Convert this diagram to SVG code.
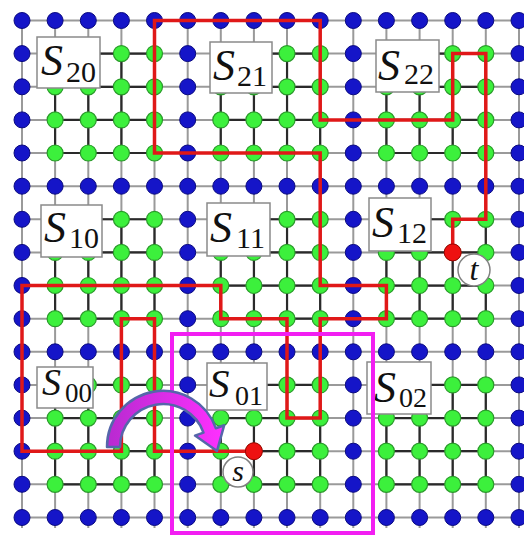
<svg xmlns="http://www.w3.org/2000/svg" width="524" height="535" viewBox="0 0 524 535">
<style>
.gl{stroke:#9a9a9a;stroke-width:2;fill:none}
.gd{stroke:#2a2a2a;stroke-width:2.2;fill:none}
.b{fill:#1515c8;stroke:#0a0a80;stroke-width:1}
.g{fill:#3cf03c;stroke:#2a9a2a;stroke-width:1.2}
.red{stroke:#e01818;stroke-width:3.5;fill:none}
.lab{fill:#fff;stroke:#8a8a8a;stroke-width:1.5}
.pt{fill:#ee1111;stroke:#a00000;stroke-width:1}
.cl{fill:#fff;stroke:#808080;stroke-width:1.5}
</style>
<defs>
<g id="rowB">
<circle class="b" cx="22" cy="0" r="8"/><circle class="b" cx="55.1" cy="0" r="8"/><circle class="b" cx="88.3" cy="0" r="8"/><circle class="b" cx="121.4" cy="0" r="8"/><circle class="b" cx="154.5" cy="0" r="8"/><circle class="b" cx="187.7" cy="0" r="8"/><circle class="b" cx="220.8" cy="0" r="8"/><circle class="b" cx="253.9" cy="0" r="8"/><circle class="b" cx="287" cy="0" r="8"/><circle class="b" cx="320.2" cy="0" r="8"/><circle class="b" cx="353.3" cy="0" r="8"/><circle class="b" cx="386.4" cy="0" r="8"/><circle class="b" cx="419.6" cy="0" r="8"/><circle class="b" cx="452.7" cy="0" r="8"/><circle class="b" cx="485.8" cy="0" r="8"/><circle class="b" cx="519" cy="0" r="8"/>
</g>
<g id="rowG">
<circle class="b" cx="22" cy="0" r="8"/><circle class="g" cx="55.1" cy="0" r="8"/><circle class="g" cx="88.3" cy="0" r="8"/><circle class="g" cx="121.4" cy="0" r="8"/><circle class="g" cx="154.5" cy="0" r="8"/><circle class="b" cx="187.7" cy="0" r="8"/><circle class="g" cx="220.8" cy="0" r="8"/><circle class="g" cx="253.9" cy="0" r="8"/><circle class="g" cx="287" cy="0" r="8"/><circle class="g" cx="320.2" cy="0" r="8"/><circle class="b" cx="353.3" cy="0" r="8"/><circle class="g" cx="386.4" cy="0" r="8"/><circle class="g" cx="419.6" cy="0" r="8"/><circle class="g" cx="452.7" cy="0" r="8"/><circle class="g" cx="485.8" cy="0" r="8"/><circle class="b" cx="519" cy="0" r="8"/>
</g>
<path id="blk" class="gd" d="M55.1 53.6H154.5M55.1 86.8H154.5M55.1 119.9H154.5M55.1 153H154.5M55.1 53.6V153M88.3 53.6V153M121.4 53.6V153M154.5 53.6V153"/>
<linearGradient id="arrGrad" x1="0" y1="0" x2="1" y2="0">
<stop offset="0" stop-color="#b82ad0"/>
<stop offset="1" stop-color="#ff30ff"/>
</linearGradient>
</defs>

<g id="grid-lines">
<path class="gl" d="M22 20.5H524M22 53.6H524M22 86.8H524M22 119.9H524M22 153H524M22 186.2H524M22 219.3H524M22 252.4H524M22 285.5H524M22 318.7H524M22 351.8H524M22 384.9H524M22 418.1H524M22 451.2H524M22 484.3H524M22 517.5H524"/>
<path class="gl" d="M22 20.5V528M55.1 20.5V528M88.3 20.5V528M121.4 20.5V528M154.5 20.5V528M187.7 20.5V528M220.8 20.5V528M253.9 20.5V528M287 20.5V528M320.2 20.5V528M353.3 20.5V528M386.4 20.5V528M419.6 20.5V528M452.7 20.5V528M485.8 20.5V528M519 20.5V528"/>
<use href="#blk" x="0" y="0"/><use href="#blk" x="165.65" y="0"/><use href="#blk" x="331.3" y="0"/>
<use href="#blk" x="0" y="165.65"/><use href="#blk" x="165.65" y="165.65"/><use href="#blk" x="331.3" y="165.65"/>
<use href="#blk" x="0" y="331.3"/><use href="#blk" x="165.65" y="331.3"/><use href="#blk" x="331.3" y="331.3"/>
</g>

<g id="dots">
<use href="#rowB" y="20.5"/>
<use href="#rowG" y="53.6"/>
<use href="#rowG" y="86.8"/>
<use href="#rowG" y="119.9"/>
<use href="#rowG" y="153"/>
<use href="#rowB" y="186.2"/>
<use href="#rowG" y="219.3"/>
<use href="#rowG" y="252.4"/>
<use href="#rowG" y="285.5"/>
<use href="#rowG" y="318.7"/>
<use href="#rowB" y="351.8"/>
<use href="#rowG" y="384.9"/>
<use href="#rowG" y="418.1"/>
<use href="#rowG" y="451.2"/>
<use href="#rowG" y="484.3"/>
<use href="#rowB" y="517.5"/>
</g>

<g id="connectors">
<path id="route" class="red" d="M253.9 451.2H154.5V318.7H121.4V451.2H22V285.5H220.8V318.7H287V418.1H320.2V318.7H386.4V285.5H320.2V153H154.5V20.5H320.2V119.9H452.7V53.6H485.8V219.3H452.7V252.4"/>
</g>

<g id="node-s"><circle class="pt" cx="253.9" cy="451.2" r="8.5"/></g>
<g id="node-t"><circle class="pt" cx="452.7" cy="252.4" r="8.5"/></g>

<g font-family="Liberation Serif, serif" fill="#111">
<g id="S20"><rect class="lab" x="37" y="37" width="63" height="51"/><text font-style="italic" x="41" y="75" font-size="44">S</text><text x="66" y="82" font-size="30">20</text></g>
<g id="S21"><rect class="lab" x="210" y="42" width="62" height="51"/><text font-style="italic" x="213" y="80" font-size="44">S</text><text x="237" y="86" font-size="30">21</text></g>
<g id="S22"><rect class="lab" x="376" y="40" width="63" height="52"/><text font-style="italic" x="378" y="80" font-size="44">S</text><text x="404" y="84" font-size="30">22</text></g>
<g id="S10"><rect class="lab" x="41" y="205" width="61" height="52"/><text font-style="italic" x="44" y="242" font-size="44">S</text><text x="69" y="248" font-size="30">10</text></g>
<g id="S11"><rect class="lab" x="207" y="203" width="63" height="53"/><text font-style="italic" x="210" y="242" font-size="44">S</text><text x="236" y="248" font-size="30">11</text></g>
<g id="S12"><rect class="lab" x="369" y="198" width="62" height="53"/><text font-style="italic" x="372" y="237" font-size="44">S</text><text x="397" y="243" font-size="30">12</text></g>
<g id="S00"><rect class="lab" x="37" y="367" width="56" height="41"/><text font-style="italic" x="42" y="395" font-size="38">S</text><text x="65" y="402" font-size="27">00</text></g>
<g id="S01"><rect class="lab" x="207" y="363" width="60" height="47"/><text font-style="italic" x="209" y="397" font-size="41">S</text><text x="235" y="405" font-size="28">01</text></g>
<g id="S02"><rect class="lab" x="367" y="362" width="64" height="52"/><text font-style="italic" x="374" y="402" font-size="44">S</text><text x="399" y="407" font-size="28">02</text></g>
</g>

<g id="region">
<rect x="172" y="334" width="201" height="199" fill="none" stroke="#f21ef2" stroke-width="4"/>
</g>

<g id="arrow">
<path d="M107 447A56 56 0 0 1 215.8 428.2L224.2 425.2L217 451L195 435.6L203.5 432.6A43 43 0 0 0 120 447Z" fill="url(#arrGrad)" stroke="#5566aa" stroke-width="2.5" stroke-linejoin="round"/>
</g>

<g font-family="Liberation Serif, serif" font-style="italic" fill="#111">
<g id="label-s"><circle class="cl" cx="238" cy="472" r="15"/><text x="238" y="481" font-size="30" text-anchor="middle">s</text></g>
<g id="label-t"><circle class="cl" cx="474" cy="270" r="16"/><text x="474" y="280" font-size="32" text-anchor="middle">t</text></g>
</g>
</svg>
